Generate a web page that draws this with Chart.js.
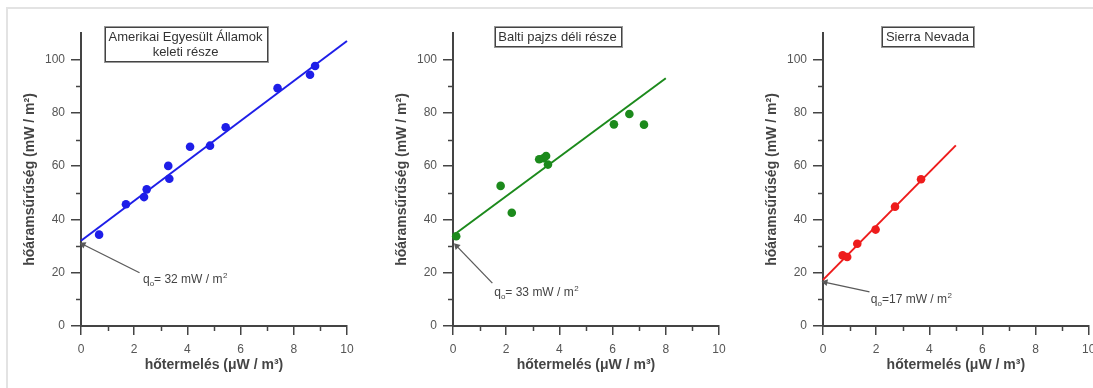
<!DOCTYPE html>
<html><head><meta charset="utf-8">
<script src="https://cdn.jsdelivr.net/npm/chart.js@4/dist/chart.umd.min.js"></script>
<style>
html,body{margin:0;padding:0;background:#fff;}
#wrap{position:relative;width:1093px;height:388px;overflow:hidden;background:#fff;}
#frame{position:absolute;left:6px;top:7px;width:1100px;height:400px;border-top:2px solid #e3e3e3;border-left:2px solid #e3e3e3;}
canvas{position:absolute;left:0;top:0;}
</style></head><body>
<div id="wrap"><div id="frame"></div>
<canvas id="c1" width="1093" height="388"></canvas>
<canvas id="c2" width="1093" height="388"></canvas>
<canvas id="c3" width="1093" height="388"></canvas>
</div>
<script>
// ---- data ----
const xTicks = [0, 2, 4, 6, 8, 10];
const xMinor = [1, 3, 5, 7, 9];
const yTicks = [0, 20, 40, 60, 80, 100];
const yMinor = [10, 30, 50, 70, 90];
const xTitle = "hőtermelés (μW / m³)";
const yTitle = "hőáramsűrűség (mW / m²)";
const panelTitles = [["Amerikai Egyesült Államok", "keleti része"], ["Balti pajzs déli része"], ["Sierra Nevada"]];
const q0Values = [32, 33, 17];

const usaX = [0.68, 1.69, 2.37, 2.47, 3.28, 3.32, 4.10, 4.85, 5.44, 7.39, 8.61, 8.80];
const usaY = [34.3, 45.7, 48.4, 51.3, 60.1, 55.3, 67.3, 67.7, 74.6, 89.3, 94.3, 97.6];
const usaFitX = [0, 10];
const usaFitY = [32, 107];

const balticX = [0.12, 1.79, 2.21, 3.24, 3.40, 3.50, 3.57, 6.05, 6.63, 7.18];
const balticY = [33.7, 52.6, 42.5, 62.6, 63.0, 63.8, 60.6, 75.7, 79.6, 75.6];
const balticFitX = [0, 8];
const balticFitY = [34, 93];

const sierraX = [0.74, 0.91, 1.29, 1.98, 2.71, 3.69];
const sierraY = [26.5, 25.9, 30.9, 36.2, 44.8, 55.1];
const sierraFitX = [0, 5];
const sierraFitY = [17.3, 67.8];

// ---- panel setup (layout/styles) ----
const panels = [
  {id:'c1', axisX:81, color:'#1e1ee8', xs:usaX, ys:usaY, fx:usaFitX, fy:usaFitY, title:panelTitles[0], q0:q0Values[0],
   tip:[0.08,30.6], tail:[2.2,20.0], label:[2.33,17.4], rot:-64, sep:' '},
  {id:'c2', axisX:453, color:'#1c8a1c', xs:balticX, ys:balticY, fx:balticFitX, fy:balticFitY, title:panelTitles[1], q0:q0Values[1],
   tip:[0.14,30.0], tail:[1.48,16.1], label:[1.55,12.4], rot:-44, sep:' '},
  {id:'c3', axisX:823, color:'#ee1c1c', xs:sierraX, ys:sierraY, fx:sierraFitX, fy:sierraFitY, title:panelTitles[2], q0:q0Values[2],
   tip:[0.09,16.4], tail:[1.75,12.8], label:[1.8,10.0], rot:-78, sep:''}
];

const FONT = "'Liberation Sans', Arial, sans-serif";
const AXC = '#444';

const extrasPlugin = {
  id: 'extras',
  afterDraw(chart, args, opts) {
    const p = opts.panel;
    const ctx = chart.ctx;
    const xs = chart.scales.x, ys = chart.scales.y;
    const ca = chart.chartArea;
    ctx.save();
    // minor ticks
    ctx.strokeStyle = AXC; ctx.lineWidth = 1.5;
    xMinor.forEach(v => {
      const px = Math.round(xs.getPixelForValue(v)) + 0.5;
      ctx.beginPath(); ctx.moveTo(px, ca.bottom); ctx.lineTo(px, ca.bottom + 5); ctx.stroke();
    });
    yMinor.forEach(v => {
      const py = Math.round(ys.getPixelForValue(v)) + 0.5;
      ctx.beginPath(); ctx.moveTo(ca.left - 5, py); ctx.lineTo(ca.left, py); ctx.stroke();
    });
    // annotation text q0
    const lx = xs.getPixelForValue(p.label[0]);
    const ly = ys.getPixelForValue(p.label[1]);
    ctx.fillStyle = '#444';
    ctx.textBaseline = 'middle'; ctx.textAlign = 'left';
    ctx.font = '12px ' + FONT;
    ctx.fillText('q', lx, ly);
    let w = ctx.measureText('q').width;
    ctx.font = '8px ' + FONT;
    ctx.fillText('o', lx + w, ly + 4);
    w += ctx.measureText('o').width;
    ctx.font = '12px ' + FONT;
    const rest = '=' + p.sep + p.q0 + ' mW / m';
    ctx.fillText(rest, lx + w, ly);
    w += ctx.measureText(rest).width;
    ctx.font = '8px ' + FONT;
    ctx.fillText('2', lx + w + 0.5, ly - 4);
    // title box
    const lines = p.title;
    ctx.font = '13px ' + FONT;
    const tw = Math.max(...lines.map(t => ctx.measureText(t).width));
    const bw = Math.round(tw + 8), bh = lines.length * 15 + 4;
    const cx = ca.left + 104.5;
    const bx = Math.round(cx - bw / 2) + 0.5, by = 27.5;
    ctx.fillStyle = '#fff';
    ctx.fillRect(bx, by, bw, bh);
    ctx.strokeStyle = '#999'; ctx.lineWidth = 1;
    ctx.strokeRect(bx - 1, by - 1, bw + 2, bh + 2);
    ctx.strokeStyle = '#444';
    ctx.strokeRect(bx, by, bw, bh);
    ctx.fillStyle = '#333'; ctx.textAlign = 'center';
    lines.forEach((t, i) => ctx.fillText(t, cx, by + 2 + 7.5 + i * 15));
    ctx.restore();
  }
};

panels.forEach(p => {
  const W = 60, H = 50;
  new Chart(document.getElementById(p.id), {
    type: 'scatter',
    data: {
      datasets: [
        {data: p.fx.map((x, i) => ({x, y: p.fy[i]})), showLine: true, borderColor: p.color, borderWidth: 2,
         pointRadius: 0, fill: false, clip: false},
        {data: [{x: p.tip[0], y: p.tip[1]}, {x: p.tail[0], y: p.tail[1]}], showLine: true, borderColor: '#5a5a5a',
         borderWidth: 1.3, pointRadius: [4, 0], pointStyle: 'triangle', rotation: p.rot,
         pointBackgroundColor: '#5a5a5a', pointBorderColor: '#5a5a5a', pointBorderWidth: 0, clip: false},
        {data: p.xs.map((x, i) => ({x, y: p.ys[i]})), showLine: false, backgroundColor: p.color, borderColor: p.color,
         pointRadius: 4.3, pointBorderWidth: 0, clip: false}
      ]
    },
    options: {
      responsive: false, animation: false, events: [],
      layout: {padding: {left: p.axisX - W, right: 1093 - (p.axisX + 266), top: 33, bottom: 12}},
      plugins: {legend: {display: false}, tooltip: {enabled: false}, extras: {panel: p}},
      scales: {
        x: {
          type: 'linear', min: 0, max: 10,
          afterBuildTicks: s => { s.ticks = xTicks.map(v => ({value: v})); },
          afterFit: s => { s.height = H; s.paddingLeft = 0; s.paddingRight = 0; },
          grid: {drawOnChartArea: false, drawTicks: true, tickLength: 9, color: AXC, lineWidth: 1.5},
          border: {display: true, color: AXC, width: 2},
          ticks: {color: '#555', font: {family: FONT, size: 12}, padding: 7, maxRotation: 0, autoSkip: false},
          title: {display: true, text: xTitle, color: '#444', font: {family: FONT, size: 14, weight: 'bold'}, padding: {top: 0, bottom: 2}}
        },
        y: {
          type: 'linear', min: 0, max: 110,
          afterBuildTicks: s => { s.ticks = yTicks.map(v => ({value: v})); },
          afterFit: s => { s.width = W; },
          grid: {drawOnChartArea: false, drawTicks: true, tickLength: 10, color: AXC, lineWidth: 1.5},
          border: {display: true, color: AXC, width: 2},
          ticks: {color: '#555', font: {family: FONT, size: 12}, padding: 6, autoSkip: false},
          title: {display: true, text: yTitle, color: '#444', font: {family: FONT, size: 14, weight: 'bold'}, padding: {top: 1, bottom: 0}}
        }
      }
    },
    plugins: [extrasPlugin]
  });
});
</script>
</body></html>
